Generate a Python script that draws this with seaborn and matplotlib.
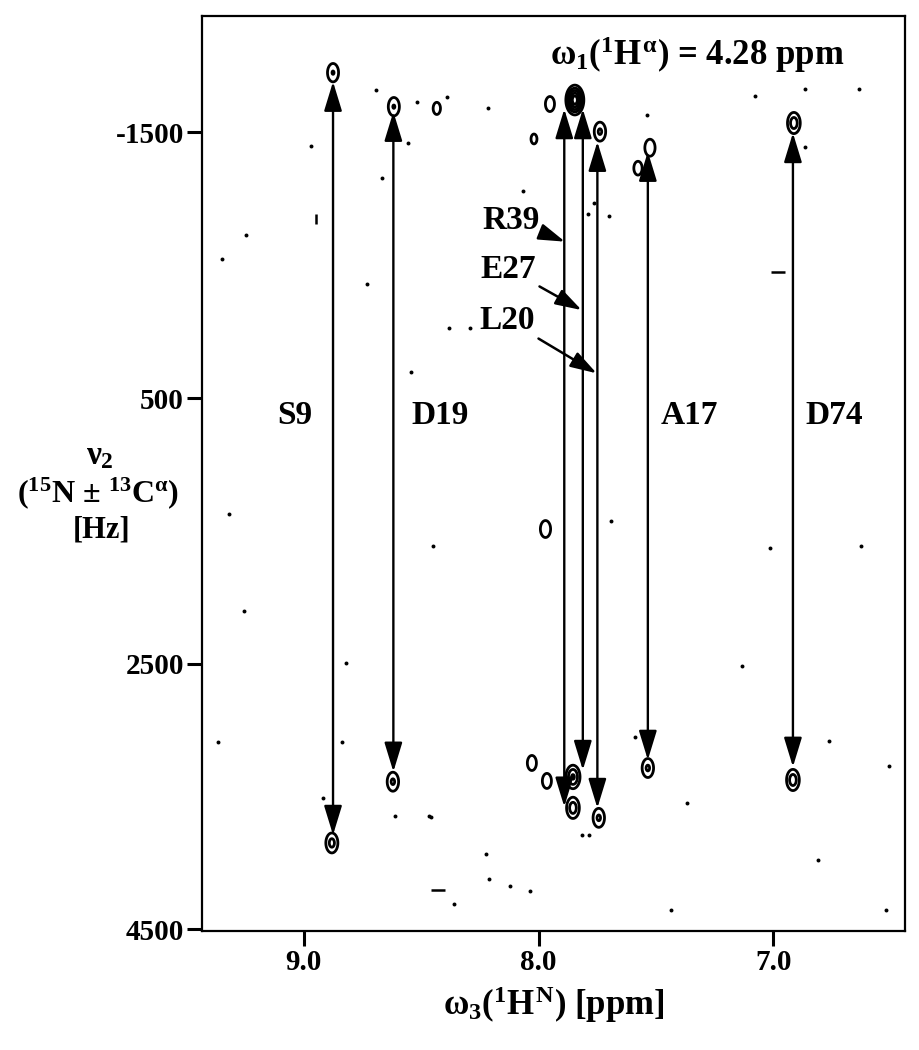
import numpy as np
import matplotlib
matplotlib.use("Agg")
import matplotlib.pyplot as plt
import seaborn as sns

# style: plain white, serif bold text like the printed figure
sns.set_theme(style="white")
plt.rcParams["font.family"] = ["Liberation Serif", "DejaVu Serif"]
plt.rcParams["font.weight"] = "bold"
plt.rcParams["text.color"] = "black"
plt.rcParams["axes.labelcolor"] = "black"
plt.rcParams["xtick.color"] = "black"
plt.rcParams["ytick.color"] = "black"
plt.rcParams["mathtext.fontset"] = "custom"
plt.rcParams["mathtext.rm"] = "Liberation Serif:bold"
plt.rcParams["mathtext.it"] = "Liberation Serif:bold"
plt.rcParams["mathtext.bf"] = "Liberation Serif:bold"

# ---- cross peaks (omega3 ppm, nu2 Hz, relative height) ----
peak_ppm = [8.876, 8.881, 8.617, 8.621, 7.846, 7.952, 7.739, 7.526, 7.577, 6.913,
            7.535, 6.917, 7.854, 7.854, 7.744, 8.029, 7.965, 8.434, 7.971, 8.020]
peak_hz = [-1949, 3849, -1693, 3388, -1743, -1713, -1505, -1384, -1230, -1570,
           3285, 3375, 3352, 3585, 3660, 3247, 3382, -1680, 1486, -1450]
peak_amp = [1.2, 1.5, 1.2, 1.3, 9.0, 0.8, 1.3, 1.0, 0.7, 1.8,
            1.3, 1.8, 2.6, 1.8, 1.3, 0.8, 0.8, 0.6, 1.0, 0.5]

# ---- assignment arrows (ppm, top tip Hz, bottom tip Hz) ----
res_names = ["S9", "D19", "R39", "E27", "L20", "A17", "D74"]
arrow_ppm = [8.876, 8.619, 7.891, 7.812, 7.750, 7.535, 6.917]
arrow_top = [-1881, -1655, -1675, -1675, -1429, -1354, -1495]
arrow_bot = [3789, 3313, 3576, 3300, 3586, 3224, 3276]

# labels written beside the long arrows
label_names = ["S9", "D19", "A17", "D74"]
label_ppm = [9.038, 8.419, 7.356, 6.743]
label_hz = [628, 628, 628, 628]

# labels with pointer arrows into the crowded region
ptr_names = ["R39", "E27", "L20"]
ptr_text_ppm = [8.118, 8.129, 8.133]
ptr_text_hz = [-839, -471, -87]
ptr_tip_ppm = [7.888, 7.817, 7.753]
ptr_tip_hz = [-677, -162, 314]

# ---- noise specks ----
dot_ppm = [8.694, 8.520, 8.389, 8.218, 8.971, 8.557, 8.668, 7.539, 7.077, 6.866,
           6.636, 6.866, 8.066, 7.765, 7.792, 7.701, 9.248, 9.348, 8.733, 8.382,
           8.293, 8.546, 8.451, 7.693, 8.460, 8.225, 8.212, 8.123, 8.037, 7.370,
           7.817, 7.785, 8.839, 8.919, 8.612, 8.468, 6.764, 8.361, 7.437, 6.521,
           9.319, 9.256, 9.366, 8.821, 7.135, 7.015, 6.628, 6.811, 6.509, 7.590]
dot_hz = [-1818, -1728, -1768, -1683, -1397, -1422, -1156, -1630, -1775, -1826,
          -1826, -1392, -1060, -970, -885, -872, -727, -544, -358, -27,
          -27, 302, 1614, 1423, 3652, 3932, 4120, 4171, 4211, 3548,
          3789, 3789, 3087, 3508, 3646, 3646, 3079, 4309, 4355, 4355,
          1373, 2103, 3089, 2494, 2517, 1629, 1614, 3977, 3270, 3051]
vdash_ppm = [8.949]
vdash_hz = [-847]
hdash_ppm = [6.981, 8.430]
hdash_hz = [-448, 4203]

xticks = [9.0, 8.0, 7.0]
xtick_labels = ["9.0", "8.0", "7.0"]
yticks = [-1500, 500, 2500, 4500]
ytick_labels = ["-1500", "500", "2500", "4500"]

# ==========================================
# FIGURE
# ==========================================
fig = plt.figure(figsize=(9.2, 10.5), dpi=100)
ax = fig.add_axes([0.2196, 0.1133, 0.764, 0.8714])

# contour map of the peaks
gx = np.linspace(6.40, 9.48, 1400)
gy = np.linspace(-2420, 4540, 1400)
GX, GY = np.meshgrid(gx, gy)
Z = np.zeros_like(GX)
sx, sy = 0.015, 44.0
for p, h, a in zip(peak_ppm, peak_hz, peak_amp):
    Z += a * np.exp(-((GX - p) ** 2 / (2 * sx ** 2) + (GY - h) ** 2 / (2 * sy ** 2)))
ax.contour(GX, GY, Z, levels=[0.35, 1.15, 2.4, 4.5, 7.0], colors="black", linewidths=2.0)

# noise specks
sns.scatterplot(x=dot_ppm, y=dot_hz, color="black", s=8, linewidth=0, ax=ax, legend=False)
ax.plot(vdash_ppm, vdash_hz, ls="none", marker="|", ms=7, mew=1.8, color="black")
ax.plot(hdash_ppm, hdash_hz, ls="none", marker="_", ms=10, mew=1.8, color="black")

# double headed arrows linking the peak pairs
for p, t, b in zip(arrow_ppm, arrow_top, arrow_bot):
    ax.annotate("", xy=(p, t), xytext=(p, b),
                arrowprops=dict(arrowstyle="<|-|>,head_length=1.8,head_width=0.55",
                                color="black", lw=1.7, shrinkA=0, shrinkB=0,
                                mutation_scale=10))

for name, p, h in zip(label_names, label_ppm, label_hz):
    ax.text(p, h, name, ha="center", va="center", fontsize=24, fontweight="bold")

for name, tp, th, ap, ah in zip(ptr_names, ptr_text_ppm, ptr_text_hz, ptr_tip_ppm, ptr_tip_hz):
    ax.annotate(name, xy=(ap, ah), xytext=(tp, th), ha="center", va="center",
                fontsize=24, fontweight="bold",
                arrowprops=dict(arrowstyle="-|>,head_length=1.6,head_width=0.5",
                                color="black", lw=1.8, shrinkA=0, shrinkB=0,
                                mutation_scale=10))

ax.text(0.704, 0.9464, r"$\omega_1(^1H^{\alpha})$ = 4.28 ppm", transform=ax.transAxes,
        ha="center", va="baseline", fontsize=25, fontweight="bold")

# axes
ax.set_xlim(9.434, 6.44)
ax.set_ylim(4512, -2375)
ax.set_xticks(xticks)
ax.set_xticklabels(xtick_labels)
ax.set_yticks(yticks)
ax.set_yticklabels(ytick_labels)
ax.tick_params(bottom=True, left=True, direction="out", length=11, width=2.2,
               labelsize=21, pad=2, color="black")
for s in ax.spines.values():
    s.set_linewidth(1.6)
    s.set_color("black")
ax.set_xlabel(r"$\omega_3(^1H^N)$ [ppm]", fontsize=25, fontweight="bold", labelpad=6)

# stacked y axis label
fig.text(100 / 920, 1 - 456 / 1050, r"$\nu_2$", ha="center", va="center", fontsize=24)
fig.text(98 / 920, 1 - 493 / 1050, r"($^{15}$N $\pm$ $^{13}$C$^{\alpha}$)", ha="center", va="center", fontsize=23)
fig.text(102 / 920, 1 - 530 / 1050, "[Hz]", ha="center", va="center", fontsize=22, fontweight="bold")

fig.savefig("out.png", dpi=100)
